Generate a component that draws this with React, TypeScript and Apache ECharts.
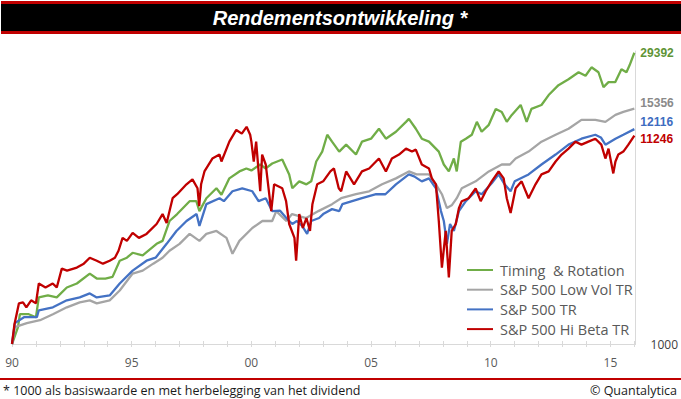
import React, { useEffect, useRef } from "react";
import * as echarts from "echarts";

const TITLE = "Rendementsontwikkeling *";
const FOOT_LEFT = "* 1000 als basiswaarde en met herbelegging van het dividend";
const FOOT_RIGHT = "© Quantalytica";

const SERIES_NAMES = ["Timing  & Rotation", "S&P 500 Low Vol TR", "S&P 500 TR", "S&P 500 Hi Beta TR"];
const LINE_COLORS = ["#70AD47", "#A5A5A5", "#4472C4", "#C00000"];
const LABEL_COLORS = ["#5E9436", "#8A8A8A", "#3E6CC0", "#C00000"];

const YEAR_MIN = 1990;
const YEAR_MAX = 2016.05;
const Y_MIN = 1000;
const Y_MAX = 30000;

const timingRotation: [number, number][] = [
  [1990.0, 1000], [1990.25, 1216], [1990.33, 1413], [1990.7, 1413], [1991.0, 1365], [1991.12, 1718],
  [1991.5, 1758], [1991.87, 1718], [1992.29, 1928], [1992.71, 2018], [1993.25, 2265], [1993.54, 2138],
  [1993.9, 2138], [1994.2, 2180], [1994.5, 2630], [1994.8, 2723], [1995.04, 2884], [1995.46, 2800],
  [1996.04, 3199], [1996.29, 3311], [1996.58, 4169], [1996.9, 4519], [1997.42, 5248], [1997.7, 5248],
  [1997.83, 4677], [1998.12, 5433], [1998.54, 6095], [1998.75, 5650], [1999.08, 6839], [1999.5, 7413],
  [1999.79, 7674], [2000.0, 7500], [2000.37, 8035], [2000.6, 7674], [2000.87, 8128], [2001.29, 8511],
  [2001.58, 7161], [2001.71, 6095], [2002.0, 6607], [2002.3, 6383], [2002.5, 6607], [2002.71, 8318],
  [2002.96, 9333], [2003.17, 11350], [2003.37, 10471], [2003.67, 9333], [2003.96, 10116], [2004.37, 9016],
  [2004.62, 10471], [2005.0, 10839], [2005.33, 12162], [2005.62, 10839], [2006.04, 11749], [2006.46, 13183],
  [2006.58, 13646], [2006.87, 12162], [2007.12, 10839], [2007.42, 10471], [2007.83, 9333], [2008.04, 8035],
  [2008.25, 7413], [2008.46, 8610], [2008.58, 7413], [2008.75, 10471], [2008.96, 10839], [2009.21, 11350],
  [2009.42, 13183], [2009.62, 11749], [2009.92, 12735], [2010.21, 15311], [2010.46, 14791], [2010.67, 13183],
  [2010.88, 14289], [2011.25, 16032], [2011.5, 13183], [2011.7, 15311], [2012.12, 16032], [2012.42, 17989],
  [2012.83, 20184], [2013.25, 21627], [2013.67, 23442], [2013.96, 22500], [2014.21, 24831], [2014.5, 23442],
  [2014.71, 19724], [2014.92, 20893], [2015.2, 20893], [2015.46, 24266], [2015.67, 23442], [2015.8, 25410],
  [2016.0, 29392],
];

const lowVol: [number, number][] = [
  [1990.0, 1000], [1990.12, 1216], [1990.62, 1274], [1991.17, 1318], [1991.71, 1413], [1992.29, 1531],
  [1992.83, 1622], [1993.25, 1660], [1993.54, 1603], [1994.08, 1660], [1994.5, 1862], [1995.04, 2265],
  [1995.46, 2344], [1995.9, 2541], [1996.29, 2723], [1996.58, 2951], [1997.0, 3199], [1997.42, 3589],
  [1997.83, 3311], [1998.12, 3589], [1998.54, 3715], [1998.96, 3428], [1999.21, 2851], [1999.5, 3311],
  [2000.04, 3846], [2000.46, 4169], [2000.87, 4169], [2001.04, 4677], [2001.46, 4169], [2001.7, 4519],
  [2002.29, 4315], [2002.8, 4677], [2003.37, 5070], [2003.75, 5433], [2004.37, 5689], [2004.92, 5888],
  [2005.46, 6383], [2006.04, 6839], [2006.58, 7413], [2006.9, 7161], [2007.42, 7161], [2007.71, 6383],
  [2007.96, 5689], [2008.17, 4842], [2008.37, 5000], [2008.58, 5433], [2008.79, 6095], [2009.37, 6607],
  [2009.92, 7413], [2010.46, 8035], [2010.8, 8035], [2011.04, 8610], [2011.58, 9333], [2012.12, 10471],
  [2012.71, 11350], [2013.25, 12162], [2013.79, 13490], [2014.37, 13490], [2014.79, 13183], [2015.21, 14289],
  [2015.54, 14791], [2016.0, 15356],
];

const sp500: [number, number][] = [
  [1990.0, 1000], [1990.12, 1274], [1990.5, 1365], [1991.04, 1365], [1991.12, 1479], [1991.71, 1531],
  [1992.29, 1660], [1992.83, 1718], [1993.25, 1799], [1993.54, 1718], [1994.08, 1758], [1994.5, 2018],
  [1995.04, 2344], [1995.62, 2630], [1996.0, 2723], [1996.46, 3199], [1996.87, 3715], [1997.29, 4169],
  [1997.71, 4519], [1997.83, 3936], [1998.12, 5070], [1998.67, 5433], [1998.85, 5250], [1999.21, 5888],
  [1999.62, 6095], [2000.04, 5888], [2000.3, 5248], [2000.6, 5433], [2000.87, 4677], [2001.2, 4700],
  [2001.46, 4315], [2001.71, 4027], [2001.9, 4169], [2002.12, 3936], [2002.33, 3589], [2002.5, 4169],
  [2002.83, 4315], [2003.0, 4519], [2003.37, 4786], [2003.67, 4677], [2003.8, 5070], [2004.62, 5433],
  [2005.21, 5689], [2005.6, 5689], [2006.04, 6383], [2006.58, 7161], [2006.8, 7000], [2007.12, 6607],
  [2007.42, 6839], [2007.71, 6095], [2007.92, 4677], [2008.04, 4169], [2008.17, 3199], [2008.3, 4027],
  [2008.46, 3715], [2008.67, 4677], [2008.96, 5248], [2009.37, 5888], [2009.62, 5689], [2010.04, 6457],
  [2010.33, 7161], [2010.58, 6383], [2010.83, 5888], [2011.0, 6607], [2011.58, 7161], [2012.12, 8035],
  [2012.71, 9016], [2013.25, 10116], [2013.79, 10839], [2014.37, 11350], [2014.6, 11000], [2014.79, 10116],
  [2015.21, 10839], [2015.54, 11350], [2016.0, 12116],
];

const hiBeta: [number, number][] = [
  [1990.0, 1000], [1990.1, 1250], [1990.29, 1603], [1990.46, 1620], [1990.6, 1531], [1990.8, 1660],
  [1991.0, 1603], [1991.12, 2018], [1991.4, 1928], [1991.7, 2018], [1991.87, 1928], [1992.08, 2399],
  [1992.3, 2344], [1992.71, 2427], [1993.0, 2541], [1993.25, 2723], [1993.54, 2630], [1993.8, 2541],
  [1994.08, 2630], [1994.3, 2723], [1994.45, 2951], [1994.62, 3428], [1994.8, 3311], [1995.04, 3631],
  [1995.3, 3428], [1995.62, 3589], [1996.04, 4027], [1996.29, 4519], [1996.46, 4074], [1996.71, 5433],
  [1996.9, 5689], [1997.29, 6383], [1997.54, 6761], [1997.75, 6095], [1997.82, 4955], [1997.9, 6383],
  [1998.04, 7413], [1998.37, 8610], [1998.67, 9016], [1998.75, 8318], [1999.08, 10471], [1999.37, 12000],
  [1999.6, 11500], [1999.8, 12445], [1999.95, 11350], [2000.0, 10471], [2000.1, 8318], [2000.2, 10471],
  [2000.37, 5888], [2000.45, 9016], [2000.6, 8035], [2000.83, 4677], [2000.95, 6383], [2001.29, 6095],
  [2001.45, 5248], [2001.58, 4027], [2001.8, 3428], [2001.87, 2630], [2002.0, 4519], [2002.15, 3846],
  [2002.3, 4315], [2002.45, 3715], [2002.55, 5070], [2002.75, 6383], [2003.0, 6607], [2003.3, 7413],
  [2003.45, 7674], [2003.55, 6839], [2003.65, 6095], [2003.75, 5888], [2003.96, 7413], [2004.29, 6383],
  [2004.62, 7413], [2004.92, 7674], [2005.33, 8610], [2005.62, 7413], [2005.87, 8610], [2006.17, 9016],
  [2006.46, 9661], [2006.71, 9333], [2006.87, 9550], [2007.12, 8035], [2007.42, 7674], [2007.54, 6839],
  [2007.71, 6383], [2007.83, 4169], [2007.96, 2427], [2008.12, 3715], [2008.25, 2163], [2008.37, 3715],
  [2008.54, 4027], [2008.67, 4842], [2008.79, 5248], [2009.08, 5433], [2009.37, 6095], [2009.58, 5248],
  [2009.79, 5888], [2010.04, 6607], [2010.33, 7413], [2010.54, 6839], [2010.67, 5433], [2010.83, 4571],
  [2011.04, 6095], [2011.29, 6607], [2011.58, 5433], [2011.87, 6383], [2012.12, 7161], [2012.42, 7413],
  [2012.71, 8318], [2012.96, 9016], [2013.25, 9661], [2013.54, 10471], [2013.79, 10116], [2014.08, 10471],
  [2014.37, 10839], [2014.62, 10116], [2014.79, 8610], [2014.92, 9661], [2015.12, 7244], [2015.21, 8318],
  [2015.33, 9016], [2015.54, 9333], [2015.75, 10116], [2016.0, 11246],
];

const SERIES_DATA = [timingRotation, lowVol, sp500, hiBeta];
const END_LABEL_DY = [0, -6, -7, 3];

const FONT = "'Open Sans', 'Liberation Sans', sans-serif";

export default function App() {
  const ref = useRef<HTMLDivElement>(null);

  useEffect(() => {
    if (!ref.current) return;
    const chart = echarts.init(ref.current, null, { renderer: "svg" });

    const series = SERIES_NAMES.map((name, i) => ({
      name,
      type: "line",
      data: SERIES_DATA[i],
      showSymbol: false,
      symbol: "none",
      lineStyle: { width: 2.3, color: LINE_COLORS[i] },
      itemStyle: { color: LINE_COLORS[i] },
      endLabel: {
        show: true,
        formatter: (p: any) => String(p.value[1]),
        color: LABEL_COLORS[i],
        fontWeight: "bold",
        fontSize: 12,
        fontFamily: "'Liberation Sans', sans-serif",
        distance: 6,
        offset: [0, END_LABEL_DY[i]],
      },
      emphasis: { disabled: true },
    }));

    chart.setOption({
      animation: false,
      backgroundColor: "#ffffff",
      grid: { left: 12, right: 44, top: 51, bottom: 55, containLabel: false },
      xAxis: [
        {
          type: "value",
          min: YEAR_MIN,
          max: YEAR_MAX,
          interval: 1,
          position: "bottom",
          axisLine: { show: true, lineStyle: { color: "#D9D9D9", width: 1 } },
          axisTick: { show: true, length: 3, lineStyle: { color: "#D9D9D9" } },
          splitLine: { show: false },
          axisLabel: {
            formatter: (v: number) => (Math.abs(v % 5) < 1e-9 ? String(v).slice(2) : ""),
            color: "#595959",
            fontSize: 12,
            fontFamily: FONT,
            margin: 12,
            showMaxLabel: false,
          },
        },
        {
          type: "value",
          min: YEAR_MIN,
          max: YEAR_MAX,
          interval: 1,
          position: "bottom",
          axisLine: { show: false },
          axisTick: { show: true, inside: true, length: 3, lineStyle: { color: "#D9D9D9" } },
          splitLine: { show: false },
          axisLabel: { show: false },
        },
      ],
      yAxis: {
        type: "log",
        logBase: 10,
        min: Y_MIN,
        max: Y_MAX,
        position: "right",
        axisLine: { show: true, lineStyle: { color: "#D9D9D9" } },
        axisTick: { show: false },
        splitLine: { show: false },
        axisLabel: {
          formatter: (v: number) => (Math.abs(v - 1000) < 1e-6 ? "1000" : ""),
          color: "#404040",
          fontSize: 12,
          fontFamily: FONT,
          margin: 15,
          padding: [10, 0, 0, 0],
          showMaxLabel: false,
        },
      },
      legend: {
        orient: "vertical",
        left: 467,
        top: 262,
        padding: 0,
        icon: "rect",
        itemWidth: 26,
        itemHeight: 2,
        itemGap: 3.7,
        data: SERIES_NAMES,
        selectedMode: false,
        textStyle: {
          fontSize: 14.5,
          lineHeight: 16,
          color: "#595959",
          fontFamily: FONT,
          padding: [0, 0, 0, 2],
        },
      },
      graphic: [
        { type: "rect", shape: { x: 1, y: 1, width: 680, height: 33 }, style: { fill: "#C00000" }, silent: true },
        { type: "rect", shape: { x: 1, y: 4, width: 680, height: 27 }, style: { fill: "#000000" }, silent: true },
        {
          type: "text",
          x: 340,
          y: 17.5,
          style: {
            text: TITLE,
            fill: "#ffffff",
            font: "italic bold 20px 'Liberation Sans', sans-serif",
            align: "center",
            verticalAlign: "middle",
          },
          silent: true,
        },
        { type: "rect", shape: { x: 0, y: 378, width: 681, height: 2 }, style: { fill: "#C00000" }, silent: true },
        {
          type: "text",
          x: 3,
          y: 390,
          style: {
            text: FOOT_LEFT,
            fill: "#1A1A1A",
            font: "12.5px 'Open Sans', sans-serif",
            align: "left",
            verticalAlign: "middle",
          },
          silent: true,
        },
        {
          type: "text",
          x: 677,
          y: 390,
          style: {
            text: FOOT_RIGHT,
            fill: "#1A1A1A",
            font: "12.5px 'Open Sans', sans-serif",
            align: "right",
            verticalAlign: "middle",
          },
          silent: true,
        },
      ],
      series,
    });

    return () => chart.dispose();
  }, []);

  return (
    <div
      ref={ref}
      style={{ position: "absolute", left: 0, top: 0, width: 681, height: 399, background: "#ffffff" }}
    />
  );
}
